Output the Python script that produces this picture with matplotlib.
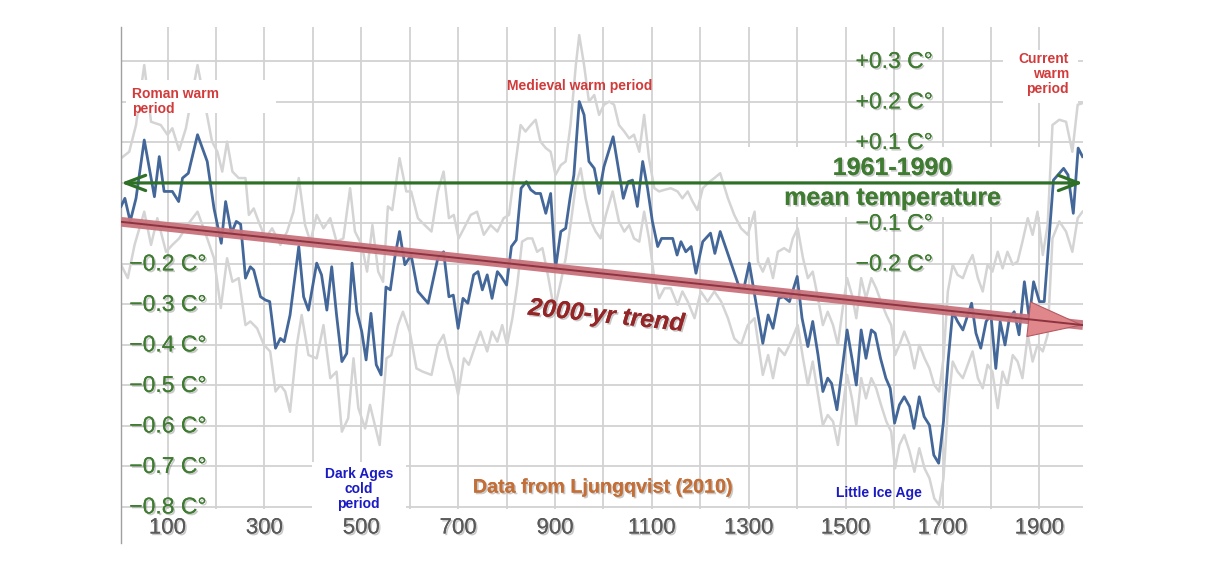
import numpy as np
import matplotlib
matplotlib.use("Agg")
import matplotlib.pyplot as plt
from matplotlib.patches import Rectangle, FancyArrowPatch
import matplotlib.patheffects as pe

plt.rcParams['font.family'] = ['Liberation Sans', 'DejaVu Sans']

# ---------------- data ----------------
blue_years = [4, 12, 23, 35, 52, 73, 83, 93, 110, 123, 131, 143, 162, 182, 196, 211, 220, 232, 242, 251,
              261, 271, 278, 292, 302, 311, 323, 333, 341, 353, 371, 381, 391, 408, 418, 429, 439, 449, 460, 470,
              481, 491, 501, 510, 520, 531, 541, 551, 560, 569, 579, 590, 603, 617, 638, 658,
              670, 681, 690, 700, 710, 720, 732, 741, 750, 760, 770, 781, 789, 800, 810, 820, 830, 841, 850, 860,
              870, 881, 891, 901, 912, 922, 931, 939, 950, 960, 970, 981, 991, 1001, 1020, 1032, 1041, 1051, 1060,
              1070, 1081, 1091, 1101, 1112, 1120, 1132, 1143, 1152, 1160, 1170, 1181, 1191, 1205, 1221, 1230, 1241,
              1260, 1281, 1290, 1301,
              1329, 1340, 1350, 1362, 1372, 1384, 1400, 1410, 1422, 1432, 1443, 1453, 1463, 1471, 1482, 1494, 1503,
              1513, 1522, 1532, 1542, 1553, 1561, 1572, 1583, 1592, 1601, 1611, 1621, 1632, 1641, 1652, 1662, 1673,
              1682, 1692, 1702, 1712, 1721, 1731, 1742, 1750, 1760, 1769, 1779, 1790, 1800, 1810, 1819, 1829, 1838,
              1848, 1858, 1869, 1879, 1888, 1900, 1910, 1929, 1950, 1959, 1970, 1980, 1989]
blue_vals = [-0.058, -0.038, -0.095, -0.038, 0.106, -0.034, 0.065, -0.021, -0.021, -0.046, 0.012, 0.024, 0.119,
             0.053, -0.063, -0.149, -0.046, -0.124, -0.095, -0.102, -0.235, -0.207, -0.215, -0.281, -0.289, -0.293,
             -0.408, -0.384, -0.392, -0.326, -0.157, -0.281, -0.314, -0.198, -0.227, -0.314, -0.207, -0.326, -0.441,
             -0.421, -0.198, -0.318, -0.367, -0.437, -0.322, -0.449, -0.474, -0.257, -0.264, -0.186, -0.120, -0.202,
             -0.178, -0.268, -0.297, -0.186,
             -0.170, -0.281, -0.277, -0.359, -0.285, -0.297, -0.227, -0.219, -0.264, -0.227, -0.285, -0.219, -0.231,
             -0.252, -0.157, -0.141, -0.013, 0.003, -0.017, -0.026, -0.026, -0.075, -0.026, -0.211, -0.120, -0.112,
             -0.038, 0.020, 0.201, 0.168, 0.053, 0.036, -0.026, 0.040, 0.114, 0.028, -0.038, 0.003, 0.007, -0.058,
             0.053, -0.013, -0.095, -0.157, -0.137, -0.137, -0.137, -0.178, -0.145, -0.170, -0.157, -0.223, -0.145,
             -0.124, -0.174, -0.120, -0.186, -0.260, -0.260, -0.198,
             -0.396, -0.326, -0.359, -0.285, -0.281, -0.293, -0.231, -0.334, -0.404, -0.342, -0.425, -0.515, -0.482,
             -0.495, -0.560, -0.449, -0.363, -0.433, -0.499, -0.363, -0.433, -0.363, -0.371, -0.433, -0.482, -0.507,
             -0.593, -0.548, -0.528, -0.552, -0.606, -0.528, -0.577, -0.598, -0.672, -0.692, -0.589, -0.433, -0.318,
             -0.342, -0.363, -0.334, -0.297, -0.371, -0.408, -0.342, -0.326, -0.458, -0.342, -0.400, -0.334, -0.318,
             -0.375, -0.244, -0.334, -0.244, -0.293, -0.293, 0.007, 0.036, 0.020, -0.075, 0.086, 0.065]

upper_years = [4, 21, 35, 52, 66, 86, 100, 110, 124, 138, 162, 179, 192, 203, 213, 223, 234, 247, 261, 268, 278,
               288, 302, 316, 333, 347, 360, 371, 384, 395, 408, 422, 436, 449, 463, 477, 487, 501, 512, 523, 535,
               545, 555, 564, 579, 593, 603, 617, 631, 645, 658,
               670, 681, 691, 701, 712, 726, 739, 753, 767, 781, 794, 805, 819, 829, 839, 850, 860, 870, 881, 891,
               901, 912, 922, 932, 943, 950, 960, 970, 981, 991, 1001, 1012, 1022, 1032, 1043, 1053, 1063, 1074,
               1084, 1094, 1105, 1115, 1126, 1139, 1153, 1163, 1174, 1184, 1194, 1205, 1219, 1229, 1241, 1257, 1270,
               1284, 1298, 1312,
               1319, 1329, 1340, 1350, 1360, 1373, 1384, 1391, 1401, 1412, 1422, 1432, 1443, 1453, 1463, 1474, 1484,
               1494, 1503, 1513, 1522, 1532, 1542, 1553, 1563, 1573, 1584, 1594, 1602, 1611, 1621, 1632, 1642, 1652,
               1663, 1673, 1683, 1693, 1702, 1711, 1721, 1731, 1742, 1752, 1762, 1773, 1783, 1793, 1803, 1814, 1824,
               1834, 1845, 1855, 1865, 1876, 1886, 1896, 1907, 1917, 1927, 1941, 1955, 1968, 1979, 1989]
upper_vals = [0.061, 0.077, 0.143, 0.291, 0.151, 0.143, 0.119, 0.135, 0.081, 0.135, 0.291, 0.184, 0.102, 0.077,
              0.028, 0.102, 0.028, 0.012, 0.012, -0.079, -0.063, -0.095, -0.137, -0.112, -0.153, -0.120, -0.071,
              0.012, -0.104, -0.145, -0.079, -0.112, -0.087, -0.145, -0.137, -0.013, -0.120, -0.153, -0.219, -0.104,
              -0.219, -0.244, -0.058, -0.067, 0.061, -0.021, -0.021, -0.087, -0.104, -0.120, -0.021,
              0.028, -0.087, -0.079, -0.137, -0.112, -0.079, -0.071, -0.128, -0.104, -0.120, -0.087, -0.079, 0.053,
              0.143, 0.127, 0.143, 0.156, 0.102, 0.086, 0.077, 0.020, 0.044, 0.053, 0.143, 0.291, 0.365, 0.291,
              0.201, 0.217, 0.168, 0.193, 0.201, 0.193, 0.143, 0.127, 0.110, 0.119, 0.077, 0.168, 0.061, -0.013,
              -0.021, -0.017, -0.013, -0.021, -0.038, -0.021, -0.046, -0.067, -0.013, 0.003, 0.012, 0.024, -0.038,
              -0.079, -0.112, -0.128, -0.071,
              -0.194, -0.219, -0.186, -0.235, -0.170, -0.161, -0.170, -0.137, -0.112, -0.186, -0.235, -0.219, -0.285,
              -0.351, -0.318, -0.351, -0.400, -0.309, -0.235, -0.277, -0.334, -0.235, -0.285, -0.235, -0.260, -0.293,
              -0.326, -0.351, -0.425, -0.400, -0.367, -0.400, -0.458, -0.400, -0.433, -0.458, -0.499, -0.515, -0.433,
              -0.268, -0.202, -0.227, -0.235, -0.202, -0.178, -0.235, -0.268, -0.202, -0.219, -0.170, -0.211, -0.170,
              -0.202, -0.194, -0.145, -0.087, -0.128, -0.071, -0.178, -0.104, 0.143, 0.156, 0.151, 0.077, 0.193, 0.197]

lower_years = [4, 18, 32, 52, 66, 79, 97, 110, 124, 141, 162, 182, 196, 210, 223, 234, 247, 261, 271, 285, 299,
               312, 323, 333, 343, 353, 367, 377, 391, 408, 422, 436, 449, 460, 473, 484, 494, 508, 518, 528, 538,
               552, 562, 576, 586, 600, 614, 627, 645, 658,
               670, 681, 690, 700, 712, 722, 736, 746, 760, 770, 781, 791, 801, 812, 822, 832, 843, 853, 863, 874,
               884, 894, 901, 912, 922, 932, 943, 953, 963, 974, 984, 994, 1005, 1019, 1032, 1043, 1053, 1063, 1074,
               1084, 1094, 1105, 1115, 1126, 1139, 1153, 1163, 1174, 1188, 1201, 1215, 1229, 1243, 1257, 1270, 1284,
               1298, 1312,
               1329, 1340, 1350, 1362, 1374, 1384, 1401, 1412, 1422, 1432, 1443, 1453, 1463, 1474, 1484, 1494, 1503,
               1513, 1522, 1532, 1542, 1553, 1563, 1573, 1584, 1594, 1602, 1611, 1621, 1632, 1642, 1652, 1663, 1673,
               1683, 1693, 1702, 1711, 1721, 1731, 1742, 1752, 1762, 1773, 1783, 1793, 1803, 1814, 1824, 1834, 1845,
               1855, 1865, 1876, 1886, 1896, 1907, 1917, 1927, 1941, 1955, 1968, 1979, 1989]
lower_vals = [-0.202, -0.235, -0.153, -0.071, -0.153, -0.087, -0.170, -0.153, -0.137, -0.104, -0.071, -0.137,
              -0.186, -0.309, -0.186, -0.244, -0.235, -0.351, -0.342, -0.359, -0.400, -0.416, -0.515, -0.499, -0.515,
              -0.565, -0.400, -0.326, -0.425, -0.433, -0.351, -0.482, -0.466, -0.614, -0.581, -0.433, -0.556, -0.606,
              -0.548, -0.598, -0.647, -0.433, -0.425, -0.351, -0.318, -0.367, -0.458, -0.466, -0.474, -0.400,
              -0.375, -0.433, -0.466, -0.523, -0.433, -0.449, -0.400, -0.367, -0.416, -0.367, -0.392, -0.351, -0.400,
              -0.334, -0.252, -0.145, -0.137, -0.137, -0.170, -0.161, -0.219, -0.285, -0.301, -0.244, -0.186, -0.104,
              -0.005, 0.036, -0.038, -0.095, -0.120, -0.137, -0.079, -0.021, -0.095, -0.120, -0.104, -0.137, -0.145,
              -0.071, -0.137, -0.235, -0.285, -0.260, -0.260, -0.301, -0.268, -0.293, -0.334, -0.268, -0.293, -0.268,
              -0.293, -0.334, -0.384, -0.400, -0.351, -0.334,
              -0.474, -0.425, -0.482, -0.408, -0.425, -0.400, -0.351, -0.433, -0.499, -0.441, -0.523, -0.598, -0.573,
              -0.589, -0.647, -0.556, -0.474, -0.532, -0.598, -0.482, -0.532, -0.482, -0.507, -0.548, -0.589, -0.614,
              -0.705, -0.647, -0.622, -0.663, -0.713, -0.655, -0.705, -0.729, -0.779, -0.795, -0.729, -0.556, -0.441,
              -0.466, -0.482, -0.449, -0.416, -0.482, -0.507, -0.449, -0.466, -0.556, -0.466, -0.499, -0.425, -0.441,
              -0.482, -0.375, -0.441, -0.400, -0.416, -0.375, -0.137, -0.095, -0.120, -0.170, -0.087, -0.071]

trend_years = [4, 1990]
trend_vals = [-0.096, -0.351]

x_tick_years = [100, 300, 500, 700, 900, 1100, 1300, 1500, 1700, 1900]
left_y_ticks = [-0.2, -0.3, -0.4, -0.5, -0.6, -0.7, -0.8]
right_y_ticks = [0.3, 0.2, 0.1, -0.1, -0.2]

# ---------------- figure ----------------
W, H = 1212, 564
fig = plt.figure(figsize=(W / 100, H / 100), dpi=100)
ax = fig.add_axes([121 / W, 1 - 543 / H, (1083 - 121) / W, (543 - 27) / H])
XMIN, XMAX = 4, 1990
YMIN, YMAX = -0.889, 0.385
ax.set_xlim(XMIN, XMAX)
ax.set_ylim(YMIN, YMAX)
for s in ['top', 'right', 'bottom']:
    ax.spines[s].set_visible(False)
ax.spines['left'].set_color('#a0a0a0')
ax.spines['left'].set_linewidth(1.0)
ax.set_xticks([])
ax.set_yticks([])

GRID = '#d2d2d2'
ax.vlines(np.arange(100, 2000, 100), -0.805, YMAX, colors=GRID, lw=1.3, zorder=1)
ax.hlines(np.round(np.arange(-0.8, 0.31, 0.1), 2), XMIN, XMAX, colors=GRID, lw=1.3, zorder=1)

# white boxes behind text (cover grid)
ax.add_patch(Rectangle((1240, -0.084), XMAX - 1240, 0.173, facecolor='white', edgecolor='none', zorder=1.5))
ax.add_patch(Rectangle((399, -0.812), 194, 0.123, facecolor='white', edgecolor='none', zorder=1.5))

# data
ax.plot(upper_years, upper_vals, color='#d4d4d4', lw=1.8, zorder=2)
ax.plot(lower_years, lower_vals, color='#d4d4d4', lw=1.8, zorder=2)
ax.plot(blue_years, blue_vals, color='#44679a', lw=2.0, zorder=3)

# boxes above data
ax.add_patch(Rectangle((15, 0.173), 309, 0.082, facecolor='white', edgecolor='none', zorder=4))
ax.add_patch(Rectangle((1825, 0.198), 155, 0.13, facecolor='white', edgecolor='none', zorder=4))

shadow = [pe.withSimplePatchShadow(offset=(1.2, -1.2), shadow_rgbFace='#888888', alpha=0.45), pe.Normal()]

# green mean arrow
ax.annotate('', xy=(XMIN, 0), xytext=(XMAX, 0),
            arrowprops=dict(arrowstyle='<->,head_length=1.45,head_width=0.55', color='#2f7027',
                            lw=2.3, shrinkA=0, shrinkB=0, mutation_scale=10), zorder=6)

# trend arrow
ax.plot(trend_years, trend_vals, color='#c9737c', lw=7, solid_capstyle='butt', zorder=5, alpha=0.95)
ax.plot(trend_years, trend_vals, color='#8d3340', lw=1.4, zorder=5.2)
hx0 = 1880
hy0 = float(np.interp(hx0, trend_years, trend_vals))
head = FancyArrowPatch((hx0, hy0), (trend_years[1], trend_vals[1]),
                       arrowstyle='-|>,head_length=38,head_width=12.5', mutation_scale=1,
                       facecolor='#e0878b', edgecolor='#b45a63', lw=0.8, shrinkA=0, shrinkB=0, zorder=5.1)
ax.add_patch(head)

# tick labels
GREEN = '#3f7c31'
for y in left_y_ticks:
    ax.text(21, y, '\u2212%.1f C\u00b0' % abs(y), color=GREEN, fontsize=16.5, ha='left', va='center',
            zorder=7, path_effects=shadow)
for y in right_y_ticks:
    sign = '+' if y > 0 else '\u2212'
    ax.text(1600, y, '%s%.1f C\u00b0' % (sign, abs(y)), color=GREEN, fontsize=16.5, ha='center', va='center',
            zorder=7, path_effects=shadow)
for x in x_tick_years:
    ax.text(x, -0.852, str(x), color='#5a5a5a', fontsize=16, ha='center', va='center', zorder=7,
            path_effects=shadow)

ax.text(1597, 0.037, '1961-1990', color=GREEN, fontsize=18, fontweight='bold', ha='center', va='center',
        zorder=7, path_effects=shadow)
ax.text(1597, -0.037, 'mean temperature', color=GREEN, fontsize=18, fontweight='bold', ha='center',
        va='center', zorder=7, path_effects=shadow)

ax.text(1006, -0.328, '2000-yr trend', color='#952628', fontsize=18, fontweight='bold', fontstyle='italic',
        ha='center', va='center', rotation=-6, zorder=7, path_effects=shadow)
ax.text(999, -0.751, 'Data from Ljungqvist (2010)', color='#c46f38', fontsize=14.2, fontweight='bold',
        ha='center', va='center', zorder=7, path_effects=shadow)

RED = '#d23b3b'
BLUE = '#1b1bc4'
ax.text(27, 0.201, 'Roman warm\nperiod', color=RED, fontsize=10, fontweight='bold', ha='left', va='center',
        linespacing=1.1, zorder=7)
ax.text(950, 0.24, 'Medieval warm period', color=RED, fontsize=10, fontweight='bold', ha='center',
        va='center', zorder=7)
ax.text(1961, 0.269, 'Current\nwarm\nperiod', color=RED, fontsize=10, fontweight='bold', ha='right',
        va='center', linespacing=1.1, zorder=7)
ax.text(495, -0.756, 'Dark Ages\ncold\nperiod', color=BLUE, fontsize=10, fontweight='bold', ha='center',
        va='center', linespacing=1.12, zorder=7)
ax.text(1569, -0.765, 'Little Ice Age', color=BLUE, fontsize=10, fontweight='bold', ha='center',
        va='center', zorder=7)

fig.savefig('out.png', dpi=100)
